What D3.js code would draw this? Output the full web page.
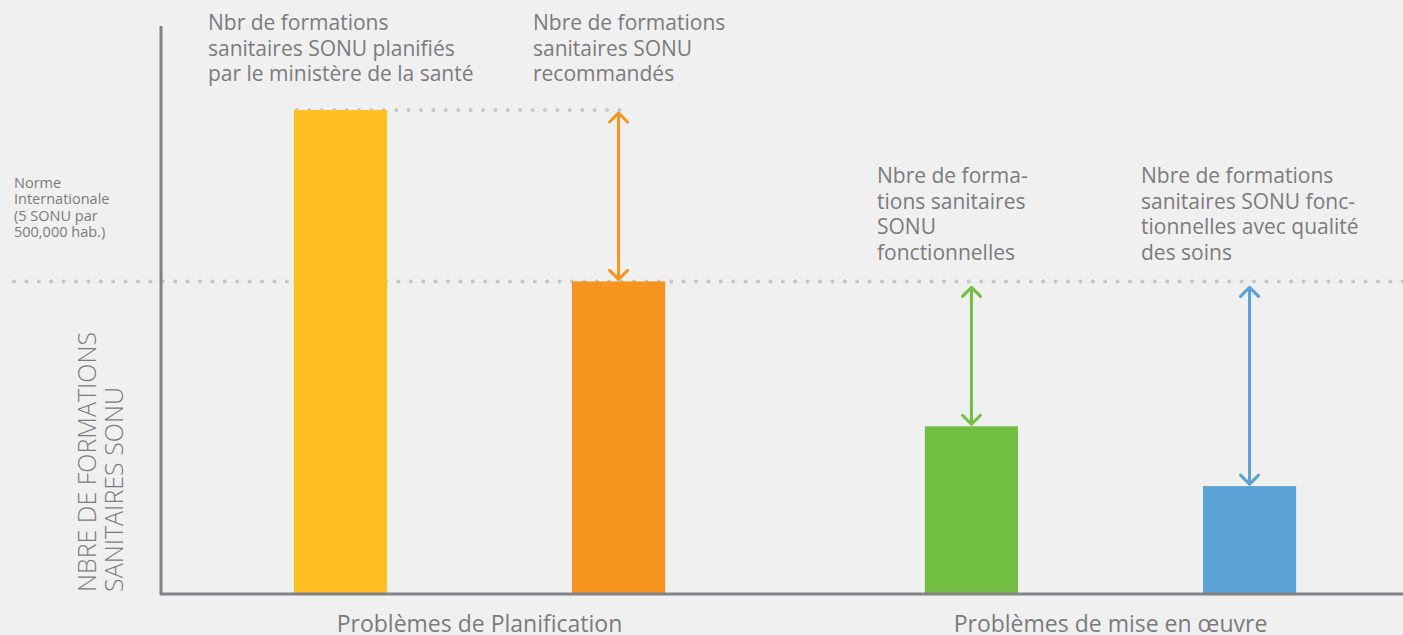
<!DOCTYPE html>
<html>
<head>
<meta charset="utf-8">
<script src="https://cdn.jsdelivr.net/npm/d3@7"></script>
<style>
  body { margin: 0; background: #f0f0f0; }
  svg { display: block; }
  text { font-family: "Open Sans", "Noto Sans", sans-serif; fill: #7b7b7d; }
</style>
</head>
<body>
<svg id="chart" width="1403" height="635"></svg>
<script>
// groups on the x axis
const groups = ['Problèmes de Planification', 'Problèmes de mise en œuvre']
// bars (relative units, recommended = 100)
const barKeys = ['planned', 'recommended', 'functional', 'quality']
const barGroups = ['Problèmes de Planification', 'Problèmes de Planification', 'Problèmes de mise en œuvre', 'Problèmes de mise en œuvre']
const barValues = [155, 100, 53.5, 34.3]
const barColors = ['#febf23', '#f7941e', '#72bf44', '#5aa1d6']
const barLabels = [
  ['Nbr de formations', 'sanitaires SONU planifiés', 'par le ministère de la santé'],
  ['Nbre de formations', 'sanitaires SONU', 'recommandés'],
  ['Nbre de forma-', 'tions sanitaires', 'SONU', 'fonctionnelles'],
  ['Nbre de formations', 'sanitaires SONU fonc-', 'tionnelles avec qualité', 'des soins']
]
// arrows: from value -> to value
const arrowFrom = [null, 155, 100, 100]
const arrowTo = [null, 100, 53.5, 34.3]
const normValue = 100
const normLabel = ['Norme', 'Internationale', '(5 SONU par', '500,000 hab.)']
const yTitle = ['NBRE DE FORMATIONS', 'SANITAIRES SONU']

const svg = d3.select('#chart')
const baseY = 593

const y = d3.scaleLinear().domain([0, 155]).range([baseY, 110])
const xGroup = d3.scaleBand().domain(groups).range([164, 1426]).padding(0)
const xInner = d3.scaleBand().domain([0, 1]).range([0, xGroup.bandwidth()])
  .paddingInner(0.665).paddingOuter(0.467)

function barX (i) {
  return xGroup(barGroups[i]) + xInner(i % 2)
}
function barCx (i) {
  return barX(i) + xInner.bandwidth() / 2
}

// dotted guide lines
function dotted (x1, x2, yv) {
  svg.append('line')
    .attr('x1', x1).attr('x2', x2)
    .attr('y1', y(yv)).attr('y2', y(yv))
    .attr('stroke', '#c6c6c6')
    .attr('stroke-width', 4)
    .attr('stroke-linecap', 'round')
    .attr('stroke-dasharray', '0 12.4')
}
dotted(297, 630, barValues[0])
dotted(14, 1403, normValue)

// bars
svg.selectAll('rect.bar')
  .data(barValues)
  .join('rect')
  .attr('class', 'bar')
  .attr('x', (d, i) => barX(i))
  .attr('width', xInner.bandwidth())
  .attr('y', d => y(d))
  .attr('height', d => y(0) - y(d))
  .attr('fill', (d, i) => barColors[i])

// arrows
barValues.forEach((d, i) => {
  if (arrowFrom[i] === null) return
  const cx = barCx(i)
  const gap = i === 1 ? 3 : 6
  const y1 = y(arrowFrom[i]) + gap
  const y2 = y(arrowTo[i]) - 2
  const g = svg.append('g')
    .attr('stroke', barColors[i])
    .attr('stroke-width', 3)
    .attr('fill', 'none')
    .attr('stroke-linecap', 'round')
    .attr('stroke-linejoin', 'round')
  g.append('line').attr('x1', cx).attr('x2', cx).attr('y1', y1 + 1).attr('y2', y2 - 1)
  g.append('path').attr('d', `M${cx - 9},${y1 + 9}L${cx},${y1}L${cx + 9},${y1 + 9}`)
  g.append('path').attr('d', `M${cx - 9},${y2 - 9}L${cx},${y2}L${cx + 9},${y2 - 9}`)
})

// axes
svg.append('line')
  .attr('x1', 161).attr('x2', 161).attr('y1', 26).attr('y2', baseY + 2)
  .attr('stroke', '#818285').attr('stroke-width', 3)
svg.append('line')
  .attr('x1', 160).attr('x2', 1403).attr('y1', baseY + 1).attr('y2', baseY + 1)
  .attr('stroke', '#818285').attr('stroke-width', 3)

// group labels
svg.selectAll('text.group')
  .data(groups)
  .join('text')
  .attr('class', 'group')
  .attr('x', d => xGroup(d) + xGroup.bandwidth() / 2)
  .attr('y', 632)
  .attr('text-anchor', 'middle')
  .attr('font-size', 23)
  .text(d => d)

// bar labels
const labelX = [208, 533, 877, 1141]
const labelY = [30, 30, 183, 183]
barLabels.forEach((lines, i) => {
  const t = svg.append('text')
    .attr('x', labelX[i]).attr('y', labelY[i])
    .attr('font-size', 21)
  lines.forEach((l, j) => {
    t.append('tspan').attr('x', labelX[i]).attr('dy', j === 0 ? 0 : 25.5).text(l)
  })
})

// norm label
const nt = svg.append('text').attr('x', 14).attr('y', 188).attr('font-size', 14.5)
normLabel.forEach((l, j) => {
  nt.append('tspan').attr('x', 14).attr('dy', j === 0 ? 0 : 16.3).text(l)
})

// y title
const yt = svg.append('text')
  .attr('transform', 'translate(96,592) rotate(-90)')
  .attr('font-size', 25)
  .attr('font-weight', 300)
yTitle.forEach((l, j) => {
  yt.append('tspan').attr('x', 0).attr('dy', j === 0 ? 0 : 27).text(l)
})
</script>
</body>
</html>
